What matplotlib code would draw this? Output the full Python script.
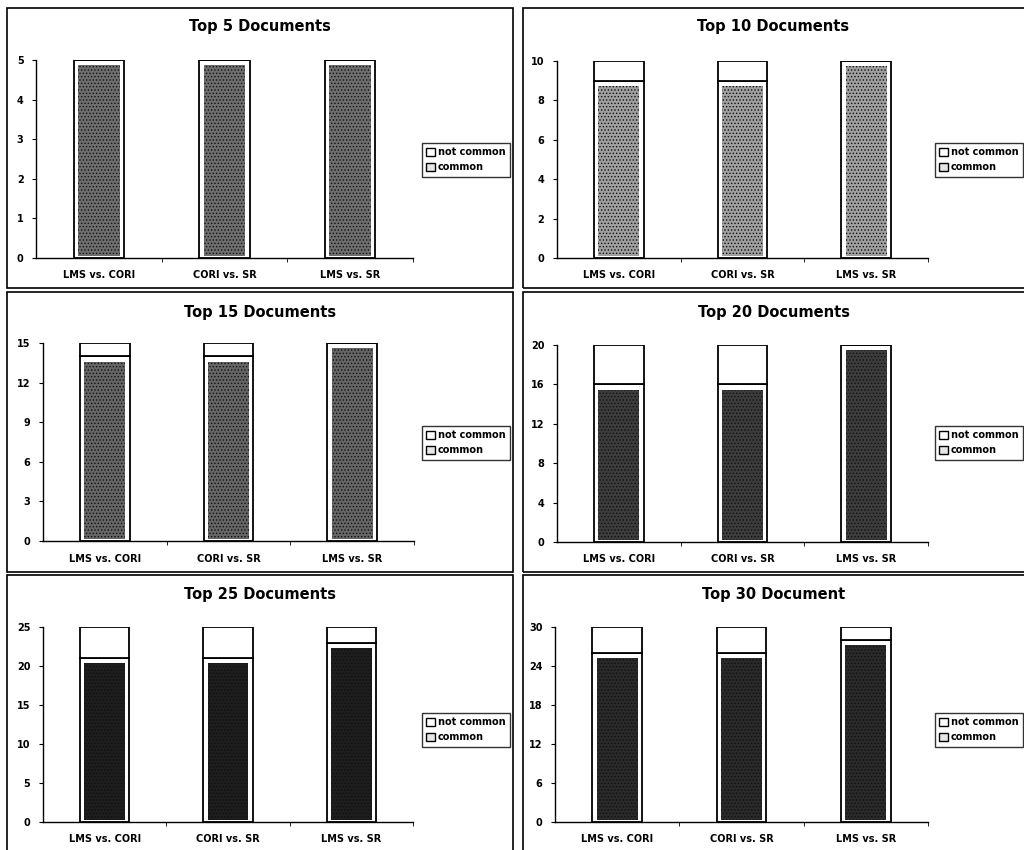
import numpy as np
import matplotlib.pyplot as plt
from matplotlib.patches import Rectangle, Patch

plt.rcParams['font.family'] = ['DejaVu Sans']
plt.rcParams['font.weight'] = 'bold'
plt.rcParams['hatch.linewidth'] = 0.6

# comparisons shown in every panel
pairs = ['LMS vs. CORI', 'CORI vs. SR', 'LMS vs. SR']

titles = ['Top 5 Documents', 'Top 10 Documents', 'Top 15 Documents',
          'Top 20 Documents', 'Top 25 Documents', 'Top 30 Document']
top_n = [5, 10, 15, 20, 25, 30]
tick_step = [1, 2, 3, 4, 5, 6]

# number of documents shared by both lists
common_5 = [5, 5, 5]
common_10 = [9, 9, 10]
common_15 = [14, 14, 15]
common_20 = [16, 16, 20]
common_25 = [21, 21, 23]
common_30 = [26, 26, 28]
common_all = [common_5, common_10, common_15, common_20, common_25, common_30]

W, H = 1024, 850
fig = plt.figure(figsize=(W / 100, H / 100), dpi=100)
fig.patch.set_facecolor('white')


def fx(px):
    return px / W


def fy(py):
    return 1 - py / H


# panel frames (pixels): x0, y0, x1, y1
frames = [(7, 8, 513, 288), (523, 8, 1030, 288),
          (7, 292, 513, 572), (523, 292, 1030, 572),
          (7, 575, 513, 860), (523, 575, 1030, 860)]
# plot area (pixels): left, right, top, bottom
areas = [(36, 413, 60, 258), (557, 928, 61, 258),
         (43, 414, 343, 541), (557, 928, 345, 542),
         (43, 413, 627, 822), (555, 928, 627, 822)]
title_y = [27, 27, 312, 312, 595, 595]
legend_pos = [(422, 143), (935, 143), (422, 426), (935, 426), (422, 713), (935, 713)]
shades = ['#6e6e6e', '#a0a0a0', '#656565', '#3c3c3c', '#1e1e1e', '#2a2a2a']

for i in range(6):
    x0, y0, x1, y1 = frames[i]
    fig.patches.append(Rectangle((fx(x0), fy(y1)), fx(x1 - x0), (y1 - y0) / H,
                                 transform=fig.transFigure, fill=False,
                                 edgecolor='black', linewidth=1.2))
    fig.text(fx((x0 + min(x1, W)) / 2), fy(title_y[i]), titles[i],
             ha='center', va='center', fontsize=10.5, fontweight='bold')

    l, r, t, b = areas[i]
    ax = fig.add_axes([fx(l), fy(b), fx(r - l), (b - t) / H])
    n = top_n[i]
    common = np.array(common_all[i])
    other = n - common
    x = np.arange(len(pairs))

    ax.bar(x, common, width=0.4, color='white', edgecolor='black', linewidth=1.3)
    ax.bar(x, other, bottom=common, width=0.4, color='white', edgecolor='black',
           linewidth=1.3)
    # stippled fill inside the common part
    ax.bar(x, common - n * 0.035, bottom=n * 0.008, width=0.33, color=shades[i],
           edgecolor='#111111', linewidth=0, hatch='.....')

    ax.set_xlim(-0.5, 2.5)
    ax.set_ylim(0, n)
    ax.set_yticks(np.arange(0, n + 1, tick_step[i]))
    ax.set_xticks(x)
    ax.set_xticklabels(pairs)
    ax.set_xticks([0.5, 1.5, 2.5], minor=True)
    ax.tick_params(axis='x', which='major', length=0, pad=9, labelsize=7)
    ax.tick_params(axis='x', which='minor', length=3, direction='out')
    ax.tick_params(axis='y', length=3, direction='out', pad=6, labelsize=7)
    for s in ['top', 'right']:
        ax.spines[s].set_visible(False)
    for s in ['left', 'bottom']:
        ax.spines[s].set_linewidth(1.0)
    for lab in ax.get_xticklabels() + ax.get_yticklabels():
        lab.set_fontweight('bold')

    handles = [Patch(facecolor='white', edgecolor='black', linewidth=1.0),
               Patch(facecolor='#e6e6e6', edgecolor='black', linewidth=1.0)]
    lx, ly = legend_pos[i]
    leg = fig.legend(handles, ['not common', 'common'], loc='upper left',
                     bbox_to_anchor=(fx(lx), fy(ly)), frameon=True, fancybox=False,
                     fontsize=7, handlelength=0.9, handleheight=0.9,
                     handletextpad=0.3, borderpad=0.45, labelspacing=0.5,
                     borderaxespad=0)
    leg.get_frame().set_edgecolor('black')
    leg.get_frame().set_linewidth(1.0)
    for txt in leg.get_texts():
        txt.set_fontweight('bold')

fig.savefig('out.png', dpi=100)
